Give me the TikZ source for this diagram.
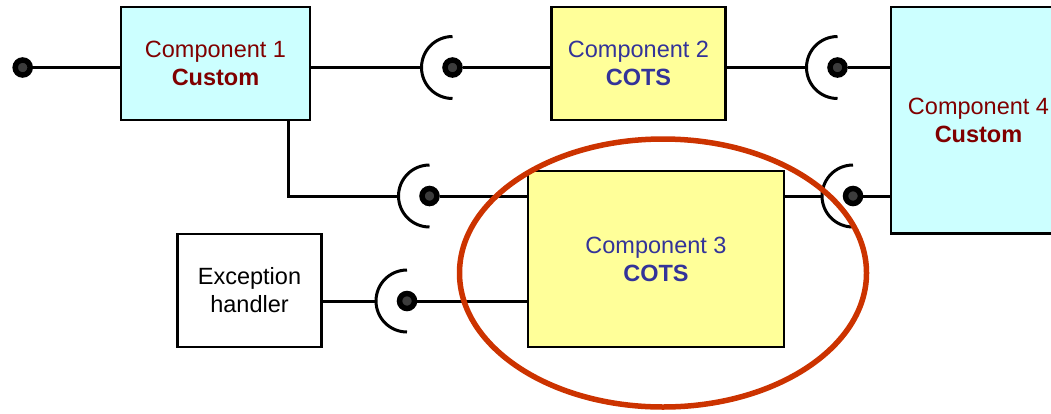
\documentclass[tikz,border=0pt]{standalone}
\usepackage{fontspec}
\setmainfont{Liberation Sans}
\definecolor{custfill}{HTML}{CCFFFF}
\definecolor{cotsfill}{HTML}{FFFF99}
\definecolor{custtext}{HTML}{800000}
\definecolor{cotstext}{HTML}{333399}
\definecolor{ringred}{HTML}{CC3300}
\definecolor{ballgray}{HTML}{3C3C3C}

\begin{document}
\begin{tikzpicture}[x=1pt,y=-1pt,
  box/.style={draw=black, line width=2.2pt, align=center, inner sep=0pt,
              font=\fontsize{23.5}{28}\selectfont},
  custom/.style={box, fill=custfill, text=custtext},
  cots/.style={box, fill=cotsfill, text=cotstext},
  plainbox/.style={box, fill=white, text=black},
  wire/.style={line width=3pt},
  cup/.style={line width=3pt},
  ball/.style={circle, draw=black, fill=ballgray, line width=5.5pt,
               minimum size=15pt, inner sep=0pt},
  socket/.style={circle, minimum size=62pt, inner sep=0pt, outer sep=0pt},
]
\clip (0,0) rectangle (1051,413);

% components
\node[custom, minimum width=189pt, minimum height=113pt] (c1) at (215.5,63.5)
  {Component 1\\\textbf{Custom}};
\node[cots, minimum width=174pt, minimum height=113pt] (c2) at (638.5,63.5)
  {Component 2\\\textbf{COTS}};
\node[cots, minimum width=256pt, minimum height=176pt] (c3) at (656,259)
  {Component 3\\\textbf{COTS}};
\node[custom, minimum width=175pt, minimum height=226.5pt] (c4) at (978.5,120.25)
  {Component 4\\\textbf{Custom}};
\node[plainbox, minimum width=144pt, minimum height=112.5pt] (exc) at (249.5,290.5)
  {Exception\\handler};

% sockets (required interfaces)
\node[socket] (k1) at (452.5,67.5) {};
\node[socket] (k2) at (837.5,67.5) {};
\node[socket] (k3) at (429.5,196) {};
\node[socket] (k4) at (853,196) {};
\node[socket] (k5) at (407,301) {};

% wires
\node[ball] (b0) at (22.7,67.5) {};
\draw[wire] (b0) -- (c1.west |- b0);
\draw[wire] (c1.east |- k1) -- (k1.west);
\draw[wire] ([xshift=-23pt]c1.south east) |- (k3.west);
\draw[wire] (c2.east |- k2) -- (k2.west);
\draw[wire] (c3.east |- k4) -- (k4.west);
\draw[wire] (exc.east |- k5) -- (k5.west);

% balls (provided interfaces) and their links
\foreach \k/\t in {k1/c2, k2/c4, k3/c3, k4/c4, k5/c3} {
  \draw[cup] (\k.north) arc[start angle=90, end angle=270, radius=31pt];
  \node[ball] (ball-\k) at (\k.center) {};
  \draw[wire] (ball-\k) -- (\t.west |- ball-\k);
}

% highlight ring
\draw[ringred, line width=5.5pt] (663,273) ellipse [x radius=203.5pt, y radius=134pt];
\end{tikzpicture}
\end{document}
